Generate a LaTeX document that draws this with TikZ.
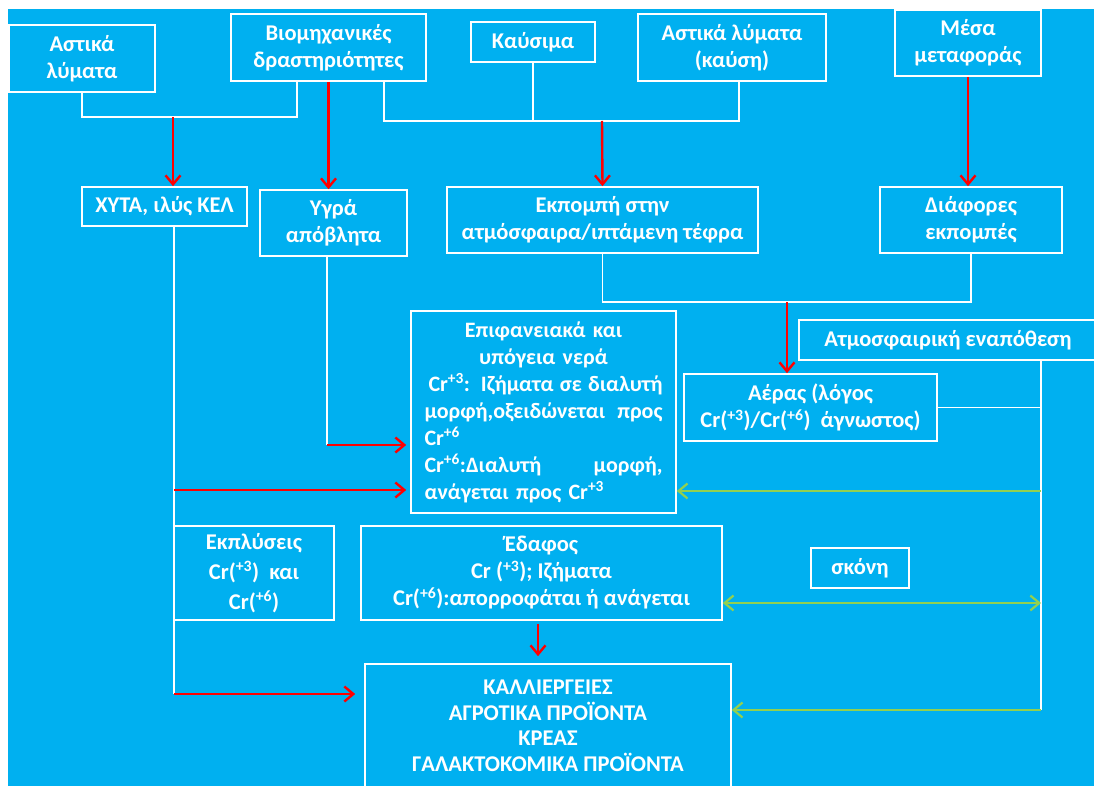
\documentclass[tikz,border=0pt]{standalone}
\usepackage{fontspec}
\setmainfont{Carlito}
\usetikzlibrary{arrows.meta}

\definecolor{skyblue}{HTML}{00B0F0}
\definecolor{flowred}{HTML}{FF0000}
\definecolor{dustgreen}{HTML}{92D050}

\begin{document}
\begin{tikzpicture}[x=1pt,y=-1pt,
  box/.style={draw=white,line width=1.6pt,text=white,align=center,inner sep=2pt,
    font=\fontsize{22.5}{27}\selectfont\bfseries},
  wline/.style={draw=white,line width=1.6pt},
  rarrow/.style={draw=flowred,line width=2.4pt,-{Straight Barb[length=9pt,width=15pt]}},
  garrow/.style={draw=dustgreen,line width=2.2pt,-{Straight Barb[length=9pt,width=15pt]}},
  garrows/.style={draw=dustgreen,line width=2.2pt,
    {Straight Barb[length=9pt,width=15pt]}-{Straight Barb[length=9pt,width=15pt]}}]
\fill[white] (0,0) rectangle (1094,786);
\fill[skyblue] (8,9) rectangle (1094,786);
\useasboundingbox (0,0) rectangle (1094,786);

% sources
\node[box,minimum width=146pt,minimum height=67pt] (urbA) at (82,58.5) {Αστικά\\λύματα};
\node[box,minimum width=195pt,minimum height=67pt] (indus) at (328.5,47.5) {Βιομηχανικές\\δραστηριότητες};
\node[box,minimum width=124pt,minimum height=40pt] (fuel) at (533,42) {Καύσιμα};
\node[box,minimum width=188pt,minimum height=67pt] (urbB) at (732,47.5) {Αστικά λύματα\\(καύση)};
\node[box,minimum width=146pt,minimum height=66pt] (trans) at (968,43) {Μέσα\\μεταφοράς};

% second row
\node[box,minimum width=165pt,minimum height=39pt] (landf) at (164.5,206.5) {ΧΥΤΑ, ιλύς ΚΕΛ};
\node[box,minimum width=147pt,minimum height=66pt] (liquid) at (333.5,223) {Υγρά\\απόβλητα};
\node[box,minimum width=311pt,minimum height=66pt] (emis) at (602.5,220) {Εκπομπή στην\\ατμόσφαιρα/ιπτάμενη τέφρα};
\node[box,minimum width=182pt,minimum height=66pt] (other) at (971,220) {Διάφορες\\εκπομπές};

% media
\node[box,text width=238pt,inner xsep=13.5pt,minimum height=202pt,align=left,
  font=\fontsize{22}{27}\selectfont\bfseries] (water) at (543.5,412) {%
  \makebox[238pt]{Επιφανειακά και}\\
  \makebox[238pt]{υπόγεια νερά}\\
  \makebox[238pt][l]{\hspace*{4pt}Cr\textsuperscript{+3}: Ιζήματα\hfill σε\hfill διαλυτή}\\
  \makebox[238pt][l]{μορφή,οξειδώνεται\hfill προς}\\
  Cr\textsuperscript{+6}\\
  \makebox[238pt][l]{Cr\textsuperscript{+6}:Διαλυτή\hfill μορφή,}\\
  ανάγεται προς Cr\textsuperscript{+3}};
\node[box,minimum width=298pt,minimum height=40pt] (depos) at (948,340) {Ατμοσφαιρική εναπόθεση};
\node[box,minimum width=253pt,minimum height=67pt] (air) at (810.5,407.5) {Αέρας (λόγος\\Cr(\textsuperscript{+3})/Cr(\textsuperscript{+6})~~άγνωστος)};
\node[box,minimum width=160pt,minimum height=94pt] (leach) at (254,573) {Εκπλύσεις\\[3pt]Cr(\textsuperscript{+3})~~και\\[3pt]Cr(\textsuperscript{+6})};
\node[box,minimum width=361pt,minimum height=94pt] (soil) at (541.5,573) {Έδαφος\\Cr (\textsuperscript{+3}); Ιζήματα\\Cr(\textsuperscript{+6}):απορροφάται ή ανάγεται};
\node[box,minimum width=98pt,minimum height=40pt] (dust) at (860,568) {σκόνη};
\node[box,minimum width=366pt,minimum height=124pt] (crops) at (548,726) {ΚΑΛΛΙΕΡΓΕΙΕΣ\\[-1.5pt]ΑΓΡΟΤΙΚΑ ΠΡΟΪΟΝΤΑ\\[-1.5pt]ΚΡΕΑΣ\\[-1.5pt]ΓΑΛΑΚΤΟΚΟΜΙΚΑ ΠΡΟΪΟΝΤΑ};

% junction points
\coordinate (jA) at (173,117);
\coordinate (jB) at (297,117);
\coordinate (jC) at (384,121);
\coordinate (jD) at (739,121);
\coordinate (jE) at (602,121);
\coordinate (jF) at (787,302);
\coordinate (jG) at (174,694);
\coordinate (jH) at (174,490);
\coordinate (jI) at (327,445);
\coordinate (jJ) at (1041,710);
\coordinate (jK) at (1041,491);
\coordinate (jL) at (1041,603);
\coordinate (jM) at (538,640);

% white joins
\draw[wline] (urbA.south) |- (jB) -- (jB |- indus.south);
\draw[wline] (jC |- indus.south) |- (jD) -- (jD |- urbB.south);
\draw[wline] (fuel.south) -- (fuel.south |- jC);
\draw[wline] (emis.south) |- (jF) -| (other.south);
\draw[wline] (jG |- landf.south) -- (jG);
\draw[wline] (jI |- liquid.south) -- (jI);
\draw[wline] (jJ |- depos.south) -- (jJ);
\draw[wline] (air.east) -- (air.east -| jJ);

% red flows
\draw[rarrow] (jA) -- (jA |- landf.north);
\draw[rarrow] (indus.south) -- (indus.south |- liquid.north);
\draw[rarrow] (jE) -- (emis.north);
\draw[rarrow] (trans.south) -- (trans.south |- other.north);
\draw[rarrow] (jF) -- (jF |- air.north);
\draw[rarrow,shorten >=4pt] (jI) -- (jI -| water.west);
\draw[rarrow,shorten >=4pt] (jH) -- (jH -| water.west);
\draw[rarrow,shorten >=9pt] (jG) -- (jG -| crops.west);
\draw[rarrow,shorten <=3pt,shorten >=7pt] (jM |- soil.south) -- (jM |- crops.north);

% green flows
\draw[garrow] (jK) -- (jK -| water.east);
\draw[garrows] (jL -| soil.east) -- (jL);
\draw[garrow] (jJ) -- (jJ -| crops.east);
\end{tikzpicture}
\end{document}
